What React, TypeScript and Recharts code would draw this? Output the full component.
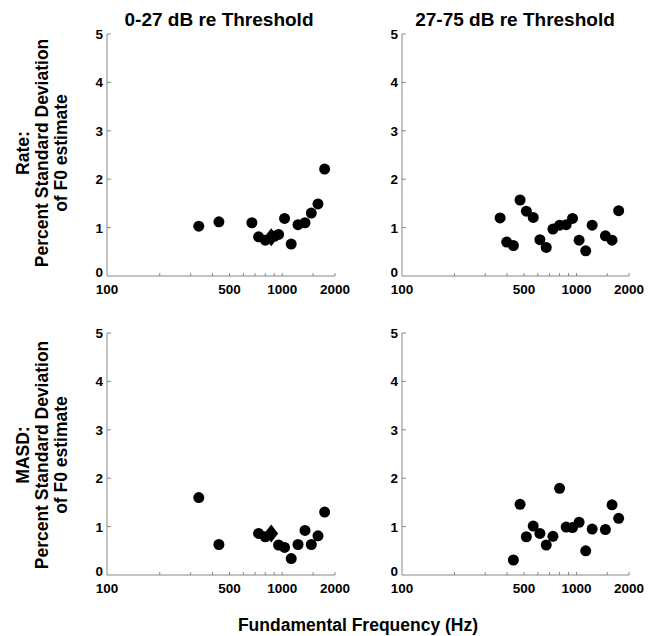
import { ScatterChart, Scatter, XAxis, YAxis } from "recharts";

// frequencies (Hz) and percent SD values
const rateLowFreq = [334, 435, 671, 733, 800, 900, 953, 1031, 1125, 1230, 1348, 1465, 1599, 1745];
const rateLowVal = [1.03, 1.12, 1.1, 0.81, 0.74, 0.82, 0.86, 1.19, 0.66, 1.06, 1.1, 1.3, 1.49, 2.21];
const rateLowMean = [{ f: 865, v: 0.8 }];

const rateHighFreq = [365, 398, 435, 475, 516, 565, 617, 671, 733, 800, 873, 949, 1035, 1130, 1230, 1465, 1599, 1745];
const rateHighVal = [1.2, 0.7, 0.63, 1.57, 1.34, 1.21, 0.75, 0.59, 0.97, 1.05, 1.06, 1.19, 0.74, 0.52, 1.05, 0.83, 0.74, 1.35];

const masdLowFreq = [334, 435, 733, 800, 953, 1031, 1125, 1230, 1348, 1465, 1599, 1745];
const masdLowVal = [1.6, 0.63, 0.86, 0.79, 0.62, 0.57, 0.34, 0.63, 0.92, 0.63, 0.81, 1.3];
const masdLowMean = [{ f: 865, v: 0.86 }];

const masdHighFreq = [435, 475, 516, 565, 617, 671, 733, 800, 873, 949, 1035, 1130, 1230, 1465, 1599, 1745];
const masdHighVal = [0.31, 1.46, 0.79, 1.01, 0.86, 0.62, 0.8, 1.79, 0.99, 0.98, 1.09, 0.5, 0.95, 0.94, 1.45, 1.17];

const xTicks = [100, 200, 300, 400, 500, 600, 700, 800, 900, 1000, 1500, 2000];
const xLabels = [100, 500, 1000, 2000];
const yTicks = [0, 1, 2, 3, 4, 5];

const FONT = "'Liberation Sans', Arial, sans-serif";
const AXIS = "#888";

const toPoints = (fs: number[], vs: number[]) => fs.map((f, i) => ({ f, v: vs[i] }));

function XTick({ x, y, payload }: any) {
  const v = payload.value;
  return (
    <g>
      {v !== 100 && <line x1={x} x2={x} y1={y} y2={y - 3} stroke={AXIS} />}
      {xLabels.includes(v) && (
        <text x={x} y={y + 18} textAnchor="middle" fontFamily={FONT} fontWeight="bold" fontSize={13.5} fill="#000">
          {v}
        </text>
      )}
    </g>
  );
}

function YTick({ x, y, payload }: any) {
  const v = payload.value;
  return (
    <g>
      {v !== 0 && <line x1={x} x2={x + 4} y1={y} y2={y} stroke={AXIS} />}
      <text x={x - 4} y={v === 0 ? y + 1 : y + 5} textAnchor="end" fontFamily={FONT} fontWeight="bold" fontSize={13.5} fill="#000">
        {v}
      </text>
    </g>
  );
}

const Dot = (props: any) => <circle cx={props.cx} cy={props.cy} r={5.5} fill="#000" />;
const Diamond = (props: any) => (
  <polygon
    points={`${props.cx},${props.cy - 9} ${props.cx + 7},${props.cy} ${props.cx},${props.cy + 9} ${props.cx - 7},${props.cy}`}
    fill="#000"
  />
);

interface PanelProps {
  left: number;
  top: number;
  w: number;
  h: number;
  points: { f: number; v: number }[];
  mean?: { f: number; v: number }[];
}

function Panel({ left, top, w, h, points, mean }: PanelProps) {
  const yw = 40;
  return (
    <div style={{ position: "absolute", left: left - yw, top: top - 10 }}>
      <ScatterChart width={yw + w + 30} height={10 + h + 30} margin={{ top: 10, right: 30, bottom: 0, left: 0 }}>
        <XAxis
          type="number"
          dataKey="f"
          scale="log"
          domain={[100, 2000]}
          ticks={xTicks}
          interval={0}
          allowDataOverflow
          height={30}
          tickLine={false}
          tickSize={0}
          tickMargin={0}
          stroke={AXIS}
          tick={<XTick />}
        />
        <YAxis
          type="number"
          dataKey="v"
          domain={[0, 5]}
          ticks={yTicks}
          interval={0}
          width={yw}
          tickLine={false}
          tickSize={0}
          tickMargin={0}
          stroke={AXIS}
          tick={<YTick />}
        />
        <Scatter data={points} shape={<Dot />} isAnimationActive={false} />
        {mean && <Scatter data={mean} shape={<Diamond />} isAnimationActive={false} />}
      </ScatterChart>
    </div>
  );
}

function YLabel({ cx, cy, first }: { cx: number; cy: number; first: string }) {
  const lines = [first, "Percent Standard Deviation", "of F0 estimate"];
  return (
    <>
      {lines.map((t, i) => (
        <text
          key={i}
          transform={`translate(${cx + i * 19}, ${cy}) rotate(-90)`}
          textAnchor="middle"
          dy="0.36em"
          fontFamily={FONT}
          fontWeight="bold"
          fontSize={17.5}
          fill="#000"
        >
          {t}
        </text>
      ))}
    </>
  );
}

export default function App() {
  return (
    <div style={{ position: "absolute", left: 0, top: 0, width: 658, height: 636, background: "#fff" }}>
      <Panel left={107} top={34} w={228} h={242} points={toPoints(rateLowFreq, rateLowVal)} mean={rateLowMean} />
      <Panel left={402} top={34} w={227} h={242} points={toPoints(rateHighFreq, rateHighVal)} />
      <Panel left={107} top={333} w={228} h={242} points={toPoints(masdLowFreq, masdLowVal)} mean={masdLowMean} />
      <Panel left={402} top={333} w={227} h={242} points={toPoints(masdHighFreq, masdHighVal)} />
      <svg width={658} height={636} style={{ position: "absolute", left: 0, top: 0, pointerEvents: "none" }}>
        <text x={219} y={26} textAnchor="middle" fontFamily={FONT} fontWeight="bold" fontSize={19} fill="#000">
          0-27 dB re Threshold
        </text>
        <text x={515} y={26} textAnchor="middle" fontFamily={FONT} fontWeight="bold" fontSize={19} fill="#000">
          27-75 dB re Threshold
        </text>
        <YLabel cx={23} cy={153} first="Rate:" />
        <YLabel cx={23} cy={455} first="MASD:" />
        <text x={358} y={631} textAnchor="middle" fontFamily={FONT} fontWeight="bold" fontSize={17.5} fill="#000">
          Fundamental Frequency (Hz)
        </text>
      </svg>
    </div>
  );
}
